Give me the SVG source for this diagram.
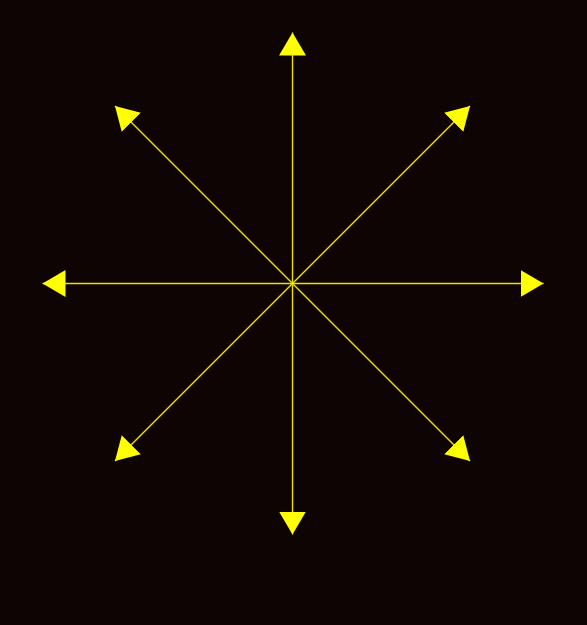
<svg xmlns="http://www.w3.org/2000/svg" width="587" height="625" viewBox="0 0 587 625">
<defs>
<style>
.ray{stroke:#f0e000;stroke-width:1.4;fill:none;marker-end:url(#head)}
</style>
<marker id="head" markerUnits="userSpaceOnUse" markerWidth="24" markerHeight="28" refX="23" refY="13.5" orient="auto" viewBox="0 0 24 27">
<path d="M0,0 L23,13.5 L0,27 Z" fill="#ffff00"/>
</marker>
</defs>
<rect width="587" height="625" fill="#0d0403"/>
<g id="connectors">
<line class="ray" x1="292.5" y1="283.5" x2="292.5" y2="32.5"/>
<line class="ray" x1="292.5" y1="283.5" x2="292.5" y2="534.5"/>
<line class="ray" x1="292.5" y1="283.5" x2="42.5" y2="283.5"/>
<line class="ray" x1="292.5" y1="283.5" x2="543.5" y2="283.5"/>
<line class="ray" x1="292.5" y1="283.5" x2="470" y2="106"/>
<line class="ray" x1="292.5" y1="283.5" x2="115" y2="106"/>
<line class="ray" x1="292.5" y1="283.5" x2="470" y2="461"/>
<line class="ray" x1="292.5" y1="283.5" x2="115" y2="461"/>
</g>
</svg>
